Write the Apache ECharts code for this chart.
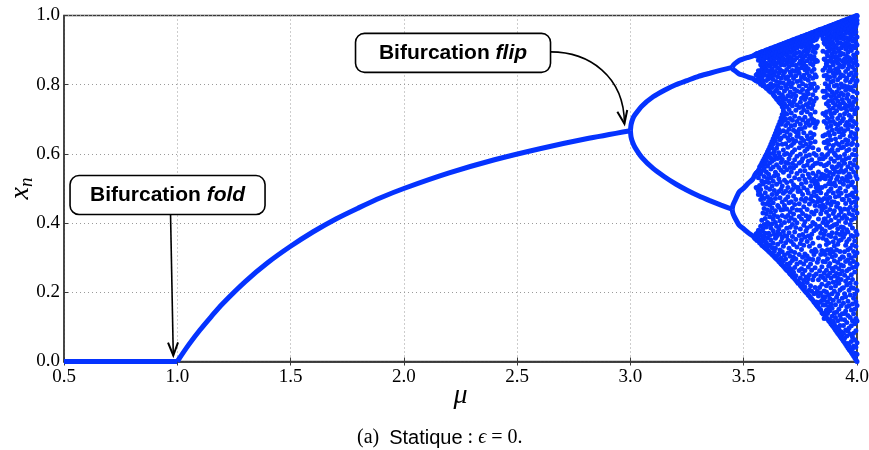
<!DOCTYPE html>
<html><head><meta charset="utf-8">
<script src="https://cdn.jsdelivr.net/npm/echarts@6/dist/echarts.min.js"></script>
<style>html,body{margin:0;padding:0;background:#fff}#c{width:869px;height:450px}</style>
</head><body><div id="c"></div>
<script>
// ---- tick labels ----
const xTickLabels = ['0.5','1.0','1.5','2.0','2.5','3.0','3.5','4.0'];
const yTickLabels = ['0.0','0.2','0.4','0.6','0.8','1.0'];

// ---- stable branches ----
const zeroMu = [0.5, 0.75, 1.0];
const zeroX  = [0.0, 0.0, 0.0];
const fixedMu = [1.0, 1.05, 1.1, 1.15, 1.2, 1.3, 1.4, 1.5, 1.6, 1.7, 1.8, 1.9, 2.0, 2.2, 2.4, 2.6, 2.8, 3.0];
const fixedX  = [0.0, 0.048, 0.091, 0.130, 0.167, 0.231, 0.286, 0.333, 0.375, 0.412, 0.444, 0.474, 0.500, 0.545, 0.583, 0.615, 0.643, 0.667];
const p2Mu    = [3.0, 3.003, 3.01, 3.02, 3.05, 3.1, 3.15, 3.2, 3.25, 3.3, 3.35, 3.4, 3.449];
const p2Upper = [0.667, 0.685, 0.701, 0.713, 0.738, 0.765, 0.784, 0.800, 0.812, 0.824, 0.833, 0.842, 0.850];
const p2Lower = [0.667, 0.648, 0.633, 0.619, 0.590, 0.558, 0.534, 0.513, 0.495, 0.479, 0.465, 0.452, 0.440];
const p4Mu = [3.449, 3.452, 3.46, 3.48, 3.50, 3.52, 3.54, 3.55, 3.56];
const p4UU = [0.850, 0.854, 0.860, 0.870, 0.875, 0.879, 0.883, 0.887, 0.890];
const p4UL = [0.850, 0.845, 0.841, 0.831, 0.827, 0.822, 0.818, 0.813, 0.810];
const p4LL = [0.440, 0.429, 0.417, 0.394, 0.383, 0.372, 0.363, 0.355, 0.350];
const p4LU = [0.440, 0.451, 0.463, 0.490, 0.501, 0.515, 0.527, 0.540, 0.548];

// ---- scattered (chaotic) region: one column of x_n values per mu ----
const chaosMu = [3.555,3.56,3.565,3.57,3.575,3.58,3.585,3.59,3.595,3.60,3.605,3.61,3.615,3.62,3.625,3.63,3.635,3.64,3.645,3.65,
  3.655,3.66,3.665,3.67,3.675,3.68,3.685,3.69,3.695,3.70,3.705,3.71,3.715,3.72,3.725,3.73,3.735,3.74,3.745,3.75,
  3.755,3.76,3.765,3.77,3.775,3.78,3.785,3.79,3.795,3.80,3.805,3.81,3.815,3.82,3.825,3.83,3.835,3.84,3.845,3.85,
  3.855,3.86,3.865,3.87,3.875,3.88,3.885,3.89,3.895,3.90,3.905,3.91,3.915,3.92,3.925,3.93,3.935,3.94,3.945,3.95,
  3.955,3.96,3.965,3.97,3.975,3.98,3.985,3.99,3.995,4.00];
const chaosX = [
 [0.888,0.884,0.812,0.828,0.357,0.369,0.544,0.503],
 [0.890,0.882,0.810,0.831,0.350,0.371,0.548,0.500],
 [0.891,0.887,0.871,0.840,0.823,0.809,0.553,0.531,0.492,0.483,0.379,0.361,0.348],
 [0.892,0.883,0.876,0.836,0.815,0.806,0.562,0.541,0.509,0.487,0.374,0.352,0.343],
 [0.894,0.889,0.869,0.858,0.829,0.801,0.567,0.544,0.497,0.468,0.391,0.366,0.341],
 [0.895,0.891,0.879,0.846,0.818,0.803,0.574,0.551,0.522,0.479,0.408,0.377,0.349,0.336],
 [0.896,0.885,0.867,0.833,0.811,0.797,0.580,0.569,0.513,0.457,0.429,0.384,0.356,0.334],
 [0.897,0.893,0.874,0.856,0.827,0.799,0.586,0.558,0.535,0.471,0.442,0.396,0.361,0.331],
 [0.899,0.890,0.881,0.849,0.838,0.793,0.593,0.572,0.519,0.488,0.413,0.371,0.347,0.328],
 [0.900,0.896,0.862,0.844,0.812,0.790,0.599,0.581,0.548,0.503,0.455,0.427,0.389,0.343,0.325],
 [0.901,0.893,0.878,0.857,0.826,0.788,0.606,0.565,0.529,0.476,0.438,0.402,0.358,0.332,0.322],
 [0.902,0.898,0.887,0.839,0.817,0.796,0.784,0.613,0.592,0.541,0.517,0.463,0.397,0.371,0.319],
 [0.904,0.895,0.871,0.853,0.830,0.781,0.620,0.601,0.574,0.498,0.452,0.418,0.365,0.337,0.316],
 [0.905,0.901,0.882,0.864,0.821,0.803,0.778,0.628,0.588,0.556,0.531,0.469,0.431,0.386,0.351,0.313],
 [0.906,0.898,0.875,0.846,0.835,0.792,0.636,0.617,0.579,0.507,0.483,0.444,0.398,0.329,0.309],
 [0.907,0.903,0.889,0.859,0.815,0.772,0.644,0.629,0.601,0.562,0.521,0.459,0.412,0.378,0.342,0.306],
 [0.909,0.900,0.878,0.867,0.827,0.798,0.767,0.652,0.607,0.584,0.536,0.494,0.423,0.367,0.318,0.303],
 [0.910,0.906,0.886,0.853,0.838,0.781,0.764,0.660,0.638,0.594,0.547,0.471,0.436,0.402,0.356,0.327,0.299],
 [0.911,0.902,0.894,0.861,0.809,0.786,0.759,0.668,0.649,0.616,0.569,0.512,0.484,0.391,0.362,0.305,0.296],
 [0.912,0.908,0.877,0.849,0.823,0.797,0.756,0.677,0.655,0.627,0.587,0.539,0.451,0.418,0.374,0.339,0.293],
 [0.914,0.905,0.889,0.866,0.833,0.777,0.751,0.685,0.671,0.603,0.561,0.528,0.491,0.446,0.383,0.311,0.289],
 [0.915,0.911,0.896,0.872,0.844,0.806,0.763,0.747,0.694,0.662,0.641,0.592,0.519,0.473,0.407,0.368,0.322,0.286],
 [0.916,0.907,0.883,0.858,0.819,0.791,0.744,0.704,0.686,0.646,0.575,0.553,0.498,0.438,0.394,0.347,0.299,0.282],
 [0.917,0.913,0.899,0.867,0.839,0.771,0.752,0.736,0.714,0.693,0.628,0.584,0.507,0.461,0.422,0.358,0.317,0.279],
 [0.919,0.910,0.888,0.876,0.827,0.805,0.764,0.731,0.724,0.709,0.667,0.611,0.547,0.486,0.439,0.376,0.333,0.291,0.275],
 [0.920,0.916,0.893,0.857,0.836,0.782,0.745,0.719,0.697,0.652,0.598,0.563,0.524,0.451,0.402,0.364,0.308,0.272],
 [0.921,0.912,0.903,0.871,0.818,0.796,0.758,0.701,0.682,0.629,0.575,0.492,0.468,0.417,0.343,0.296,0.267],
 [0.922,0.918,0.885,0.862,0.844,0.789,0.737,0.715,0.663,0.601,0.554,0.517,0.441,0.385,0.362,0.281,0.264],
 [0.924,0.914,0.897,0.874,0.823,0.801,0.768,0.689,0.646,0.619,0.573,0.503,0.476,0.422,0.351,0.313,0.262],
 [0.925,0.921,0.907,0.881,0.852,0.811,0.753,0.728,0.671,0.639,0.586,0.536,0.459,0.407,0.372,0.327,0.273,0.257],
 [0.926,0.917,0.893,0.864,0.836,0.779,0.744,0.702,0.655,0.597,0.561,0.489,0.433,0.388,0.304,0.285,0.253],
 [0.927,0.923,0.909,0.876,0.827,0.794,0.766,0.718,0.681,0.624,0.548,0.521,0.462,0.415,0.347,0.319,0.266,0.250],
 [0.929,0.920,0.898,0.857,0.841,0.804,0.739,0.697,0.642,0.605,0.572,0.497,0.443,0.396,0.361,0.292,0.246],
 [0.930,0.926,0.912,0.885,0.869,0.818,0.773,0.751,0.668,0.631,0.559,0.511,0.478,0.426,0.338,0.301,0.258,0.243],
 [0.931,0.922,0.903,0.872,0.839,0.787,0.757,0.709,0.683,0.612,0.583,0.531,0.454,0.409,0.374,0.315,0.272,0.239],
 [0.932,0.928,0.915,0.891,0.856,0.826,0.768,0.726,0.664,0.637,0.566,0.504,0.468,0.387,0.353,0.296,0.248,0.235],
 [0.934,0.925,0.906,0.878,0.847,0.809,0.782,0.741,0.694,0.651,0.593,0.543,0.438,0.401,0.331,0.282,0.231],
 [0.935,0.932,0.929,0.846,0.842,0.838,0.662,0.657,0.651,0.503,0.497,0.491,0.232,0.228,0.226],
 [0.936,0.931,0.914,0.894,0.861,0.833,0.796,0.734,0.703,0.671,0.618,0.574,0.527,0.456,0.419,0.364,0.309,0.263,0.226],
 [0.937,0.933,0.921,0.883,0.868,0.812,0.779,0.749,0.686,0.632,0.599,0.551,0.492,0.437,0.383,0.341,0.287,0.241,0.220],
 [0.939,0.930,0.908,0.889,0.849,0.822,0.761,0.719,0.673,0.645,0.578,0.513,0.469,0.412,0.352,0.324,0.268,0.216],
 [0.940,0.936,0.918,0.875,0.857,0.803,0.786,0.737,0.698,0.623,0.586,0.537,0.483,0.428,0.367,0.301,0.253,0.224,0.212],
 [0.941,0.933,0.925,0.896,0.864,0.827,0.771,0.727,0.661,0.639,0.564,0.502,0.447,0.394,0.336,0.282,0.234,0.208],
 [0.942,0.939,0.911,0.882,0.843,0.818,0.757,0.706,0.677,0.608,0.551,0.526,0.463,0.404,0.359,0.311,0.263,0.215,0.204],
 [0.944,0.935,0.919,0.901,0.853,0.797,0.764,0.743,0.689,0.628,0.593,0.518,0.471,0.421,0.377,0.292,0.244,0.200],
 [0.945,0.942,0.927,0.889,0.869,0.834,0.781,0.722,0.652,0.614,0.568,0.496,0.439,0.386,0.347,0.305,0.228,0.197],
 [0.946,0.938,0.915,0.898,0.846,0.813,0.774,0.735,0.696,0.643,0.579,0.541,0.487,0.412,0.363,0.273,0.239,0.192],
 [0.947,0.944,0.931,0.906,0.877,0.825,0.789,0.748,0.683,0.621,0.597,0.532,0.455,0.418,0.333,0.297,0.251,0.207,0.189],
 [0.949,0.940,0.922,0.884,0.861,0.801,0.758,0.714,0.661,0.632,0.559,0.507,0.469,0.391,0.356,0.282,0.219,0.184],
 [0.950,0.947,0.934,0.912,0.873,0.838,0.792,0.731,0.702,0.647,0.583,0.521,0.478,0.431,0.368,0.319,0.264,0.203,0.181],
 [0.951,0.943,0.926,0.897,0.858,0.819,0.771,0.742,0.689,0.618,0.566,0.544,0.463,0.402,0.342,0.295,0.236,0.177],
 [0.952,0.949,0.937,0.908,0.881,0.845,0.803,0.752,0.697,0.656,0.601,0.527,0.489,0.426,0.378,0.309,0.247,0.196,0.172],
 [0.954,0.945,0.929,0.893,0.866,0.829,0.783,0.721,0.676,0.635,0.572,0.514,0.451,0.397,0.324,0.271,0.214,0.168],
 [0.955,0.953,0.951,0.948,0.943,0.931,0.906,0.871,0.823,0.761,0.687,0.596,0.537,0.521,0.512,0.503,0.478,0.436,0.382,0.318,0.253,0.198,0.172,0.166,0.164],
 [0.956,0.955,0.953,0.950,0.946,0.938,0.912,0.868,0.792,0.693,0.574,0.514,0.507,0.501,0.493,0.462,0.389,0.287,0.203,0.167,0.162,0.160],
 [0.957,0.958,0.952,0.612,0.548,0.505,0.471,0.412,0.358,0.297,0.236,0.189,0.156],
 [0.958,0.959,0.946,0.586,0.527,0.497,0.449,0.391,0.334,0.262,0.214,0.171,0.152],
 [0.959,0.960,0.571,0.532,0.488,0.463,0.427,0.371,0.309,0.247,0.198,0.149],
 [0.961,0.955,0.942,0.598,0.541,0.503,0.467,0.438,0.383,0.321,0.274,0.223,0.176,0.141],
 [0.962,0.958,0.951,0.933,0.897,0.842,0.781,0.717,0.652,0.586,0.531,0.452,0.443,0.402,0.356,0.289,0.243,0.187,0.163,0.137],
 [0.963,0.960,0.948,0.921,0.874,0.826,0.764,0.694,0.633,0.566,0.538,0.471,0.412,0.367,0.318,0.256,0.204,0.178,0.139,0.124],
 [0.965,0.962,0.958,0.931,0.917,0.872,0.849,0.803,0.781,0.764,0.712,0.655,0.634,0.591,0.528,0.507,0.446,0.412,0.377,0.309,0.288,0.236,0.187,0.163,0.131],
 [0.966,0.963,0.944,0.926,0.893,0.861,0.857,0.827,0.745,0.721,0.688,0.617,0.569,0.552,0.483,0.431,0.394,0.351,0.338,0.264,0.219,0.201,0.148,0.127],
 [0.967,0.965,0.951,0.939,0.908,0.884,0.816,0.792,0.771,0.703,0.676,0.639,0.598,0.537,0.469,0.458,0.402,0.323,0.297,0.248,0.172,0.139,0.123],
 [0.969,0.966,0.955,0.923,0.897,0.868,0.839,0.797,0.752,0.739,0.662,0.628,0.574,0.514,0.492,0.421,0.365,0.343,0.276,0.226,0.193,0.158,0.118],
 [0.970,0.967,0.946,0.934,0.914,0.851,0.822,0.786,0.727,0.694,0.653,0.608,0.546,0.523,0.474,0.439,0.387,0.312,0.283,0.255,0.182,0.147,0.121,0.114],
 [0.971,0.969,0.959,0.903,0.877,0.842,0.808,0.766,0.716,0.681,0.641,0.586,0.531,0.499,0.453,0.408,0.361,0.324,0.241,0.213,0.166,0.109],
 [0.972,0.970,0.962,0.941,0.925,0.889,0.866,0.779,0.754,0.706,0.669,0.613,0.563,0.512,0.462,0.391,0.372,0.303,0.269,0.196,0.154,0.131,0.105],
 [0.974,0.971,0.948,0.918,0.901,0.857,0.834,0.811,0.748,0.733,0.694,0.624,0.557,0.541,0.487,0.428,0.346,0.317,0.262,0.229,0.177,0.116,0.101],
 [0.975,0.972,0.961,0.936,0.912,0.879,0.824,0.796,0.771,0.718,0.658,0.602,0.579,0.516,0.461,0.436,0.395,0.334,0.291,0.247,0.203,0.141,0.108,0.096],
 [0.976,0.974,0.953,0.944,0.893,0.868,0.845,0.761,0.741,0.687,0.643,0.596,0.549,0.508,0.476,0.416,0.358,0.306,0.273,0.218,0.164,0.127,0.091],
 [0.977,0.975,0.966,0.929,0.907,0.881,0.833,0.799,0.779,0.725,0.672,0.631,0.562,0.527,0.448,0.397,0.371,0.322,0.254,0.231,0.186,0.142,0.099,0.087],
 [0.979,0.976,0.957,0.941,0.919,0.862,0.847,0.814,0.753,0.702,0.683,0.611,0.588,0.534,0.491,0.457,0.384,0.339,0.286,0.241,0.195,0.118,0.082],
 [0.980,0.977,0.969,0.952,0.897,0.873,0.838,0.789,0.767,0.736,0.664,0.627,0.571,0.547,0.478,0.423,0.406,0.349,0.268,0.226,0.174,0.151,0.093,0.078],
 [0.981,0.979,0.963,0.934,0.921,0.885,0.856,0.821,0.744,0.712,0.689,0.649,0.592,0.519,0.501,0.442,0.367,0.318,0.296,0.253,0.207,0.133,0.104,0.073],
 [0.982,0.980,0.971,0.947,0.906,0.891,0.829,0.802,0.776,0.731,0.673,0.618,0.566,0.553,0.486,0.433,0.389,0.352,0.279,0.237,0.161,0.122,0.086,0.069],
 [0.984,0.981,0.958,0.939,0.917,0.869,0.851,0.793,0.757,0.696,0.659,0.634,0.581,0.529,0.468,0.414,0.376,0.303,0.261,0.212,0.183,0.138,0.079,0.064],
 [0.985,0.983,0.969,0.944,0.931,0.889,0.853,0.826,0.771,0.748,0.702,0.655,0.619,0.547,0.512,0.468,0.387,0.359,0.301,0.276,0.213,0.168,0.104,0.082,0.059],
 [0.986,0.984,0.976,0.958,0.912,0.874,0.861,0.797,0.733,0.716,0.667,0.598,0.573,0.524,0.441,0.422,0.368,0.317,0.249,0.196,0.139,0.121,0.067,0.055],
 [0.987,0.985,0.962,0.949,0.921,0.903,0.838,0.812,0.784,0.741,0.683,0.641,0.586,0.552,0.493,0.457,0.402,0.336,0.289,0.232,0.187,0.146,0.091,0.050],
 [0.989,0.987,0.979,0.936,0.908,0.882,0.867,0.819,0.761,0.724,0.691,0.627,0.609,0.534,0.478,0.413,0.381,0.346,0.262,0.221,0.158,0.113,0.074,0.045],
 [0.990,0.988,0.971,0.953,0.927,0.894,0.846,0.794,0.772,0.737,0.672,0.638,0.563,0.521,0.506,0.439,0.374,0.323,0.294,0.241,0.174,0.133,0.088,0.052,0.040],
 [0.991,0.989,0.982,0.961,0.916,0.878,0.857,0.829,0.753,0.712,0.684,0.613,0.589,0.542,0.467,0.428,0.353,0.308,0.267,0.206,0.161,0.097,0.046,0.035],
 [0.992,0.990,0.976,0.947,0.934,0.906,0.869,0.808,0.786,0.743,0.697,0.651,0.574,0.533,0.481,0.446,0.396,0.327,0.283,0.226,0.192,0.127,0.079,0.031],
 [0.994,0.992,0.985,0.967,0.941,0.899,0.873,0.834,0.792,0.728,0.706,0.662,0.627,0.557,0.511,0.459,0.408,0.364,0.299,0.251,0.214,0.149,0.103,0.058,0.026],
 [0.995,0.993,0.979,0.955,0.926,0.912,0.851,0.815,0.764,0.739,0.679,0.631,0.598,0.519,0.487,0.423,0.386,0.337,0.272,0.237,0.166,0.118,0.071,0.037,0.021],
 [0.996,0.994,0.988,0.972,0.946,0.886,0.862,0.823,0.781,0.749,0.694,0.643,0.569,0.548,0.476,0.437,0.361,0.318,0.289,0.212,0.183,0.138,0.082,0.044,0.016],
 [0.997,0.995,0.983,0.961,0.933,0.907,0.877,0.843,0.796,0.727,0.716,0.658,0.612,0.582,0.503,0.462,0.414,0.348,0.305,0.259,0.194,0.151,0.109,0.063,0.024,0.011],
 [0.999,0.997,0.991,0.968,0.952,0.921,0.869,0.831,0.806,0.757,0.688,0.647,0.596,0.537,0.491,0.449,0.376,0.333,0.274,0.226,0.173,0.124,0.089,0.041,0.005],
 [1.000,0.998,0.986,0.977,0.938,0.915,0.892,0.857,0.812,0.776,0.733,0.671,0.626,0.561,0.528,0.471,0.429,0.367,0.314,0.281,0.205,0.162,0.117,0.054,0.021,0.000]
];

// annotation anchors (data coordinates)
const foldTextAt = [0.957, 0.481];
const flipTextAt = [2.217, 0.892];
const foldTipAt = [1.0, 0.0];
const flipTipAt = [3.0, 0.667];

const BLUE = '#0533ff';
const zip = (a, b) => a.map((v, i) => [v, b[i]]);
const chaosData = [];
chaosMu.forEach((m, i) => chaosX[i].forEach(v => chaosData.push([m, v])));

function lineSeries(mu, xs, smooth) {
  return {type: 'line', data: zip(mu, xs), showSymbol: false, symbol: 'none', smooth: smooth,
    clip: false, lineStyle: {color: BLUE, width: 5}, z: 3, silent: true, animation: false};
}

const serif = 'Liberation Serif';
const chart = echarts.init(document.getElementById('c'), null, {renderer: 'canvas'});
const axisLineStyle = {color: '#3a3a3a', width: 1.5};
const option = {
  animation: false,
  backgroundColor: '#fff',
  title: {
    left: 352, top: 423,
    text: '{a|(a)}  {s|Statique} {a|: }{e|ϵ}{a| = 0.}',
    textStyle: {fontWeight: 'normal', rich: {
      a: {fontFamily: serif, fontSize: 20, color: '#000', fontWeight: 'normal'},
      s: {fontFamily: 'Liberation Sans', fontSize: 20, color: '#000', fontWeight: 'normal'},
      e: {fontFamily: serif, fontStyle: 'italic', fontSize: 20, color: '#000', fontWeight: 'normal'}
    }}
  },
  grid: {left: 64, right: 12, top: 15.5, bottom: 88.5, containLabel: false, outerBoundsMode: 'none',
    show: true, borderColor: '#3a3a3a', borderWidth: 1.5, backgroundColor: 'transparent'},
  xAxis: [{
    type: 'value', min: 0.5, max: 4.0, interval: 0.5,
    name: '{m|μ}', nameLocation: 'middle', nameGap: 20, nameMoveOverlap: false,
    nameTextStyle: {rich: {m: {fontFamily: serif, fontStyle: 'italic', fontSize: 28, color: '#000'}}},
    axisLine: {show: true, lineStyle: axisLineStyle},
    axisTick: {show: true, inside: true, length: 4, lineStyle: {color: '#3a3a3a'}},
    axisLabel: {fontFamily: serif, fontSize: 19, color: '#000', margin: 6,
      formatter: v => xTickLabels[Math.round((v - 0.5) / 0.5)]},
    splitLine: {show: true, lineStyle: {color: '#9a9a9a', type: [1, 3], width: 1}}
  }, {
    type: 'value', position: 'top', min: 0.5, max: 4.0, interval: 0.5,
    axisLine: {show: true, lineStyle: axisLineStyle},
    axisTick: {show: true, inside: true, length: 4, lineStyle: {color: '#3a3a3a'}},
    axisLabel: {show: false}, splitLine: {show: false}
  }],
  yAxis: [{
    type: 'value', min: 0, max: 1, interval: 0.2,
    name: '{x|x}{n|n}', nameLocation: 'middle', nameGap: 28, nameRotate: 90, nameMoveOverlap: false,
    nameTextStyle: {rich: {
      x: {fontFamily: serif, fontStyle: 'italic', fontSize: 28, color: '#000', lineHeight: 30},
      n: {fontFamily: serif, fontStyle: 'italic', fontSize: 19, color: '#000', verticalAlign: 'bottom', lineHeight: 14, padding: [10, 0, 0, 0]}
    }},
    axisLine: {show: true, lineStyle: axisLineStyle},
    axisTick: {show: true, inside: true, length: 4, lineStyle: {color: '#3a3a3a'}},
    axisLabel: {fontFamily: serif, fontSize: 19, color: '#000', margin: 4,
      formatter: v => yTickLabels[Math.round(v / 0.2)]},
    splitLine: {show: true, lineStyle: {color: '#9a9a9a', type: [1, 3], width: 1}}
  }, {
    type: 'value', position: 'right', min: 0, max: 1, interval: 0.2,
    axisLine: {show: true, lineStyle: axisLineStyle},
    axisTick: {show: true, inside: true, length: 4, lineStyle: {color: '#3a3a3a'}},
    axisLabel: {show: false}, splitLine: {show: false}
  }],
  series: [
    lineSeries(zeroMu, zeroX, false),
    lineSeries(fixedMu, fixedX, 0.3),
    lineSeries(p2Mu, p2Upper, 0.2),
    lineSeries(p2Mu, p2Lower, 0.2),
    lineSeries(p4Mu, p4UU, 0.2),
    lineSeries(p4Mu, p4UL, 0.2),
    lineSeries(p4Mu, p4LL, 0.2),
    lineSeries(p4Mu, p4LU, 0.2),
    {type: 'scatter', data: chaosData, symbol: 'circle', symbolSize: 5, clip: false,
     itemStyle: {color: BLUE, opacity: 1}, z: 3, silent: true, animation: false, large: false}
  ]
};
chart.setOption(option);

// ---- annotations ----
const px = p => chart.convertToPixel({xAxisIndex: 0, yAxisIndex: 0}, p);
const fold = px(foldTextAt), flip = px(flipTextAt);
const foldTip = px(foldTipAt); foldTip[0] -= 4; foldTip[1] -= 6;
const flipTip = px(flipTipAt); flipTip[0] -= 6; flipTip[1] -= 7;
const BW = 195, BH = 39;
const labelRich = {
  b: {fontFamily: 'Liberation Sans', fontWeight: 'bold', fontSize: 21, fill: '#000'},
  bi: {fontFamily: 'Liberation Sans', fontWeight: 'bold', fontStyle: 'italic', fontSize: 21, fill: '#000'}
};
function box(c, word) {
  return [
    {type: 'rect', z: 100, shape: {x: c[0] - BW / 2, y: c[1] - BH / 2, width: BW, height: BH, r: 9},
     style: {fill: '#fff', stroke: '#000', lineWidth: 1.6}},
    {type: 'text', z: 101, x: c[0], y: c[1],
     style: {text: '{b|Bifurcation }{bi|' + word + '}', rich: labelRich, align: 'center', verticalAlign: 'middle'}}
  ];
}
function head(t, dx, dy) {
  const L = Math.hypot(dx, dy), ux = dx / L, uy = dy / L, len = 13, w = 5;
  return {type: 'polyline', z: 100, shape: {points: [
    [t[0] - ux * len - uy * w, t[1] - uy * len + ux * w], [t[0], t[1]], [t[0] - ux * len + uy * w, t[1] - uy * len - ux * w]]},
    style: {stroke: '#000', lineWidth: 2, fill: null}};
}
const fStart = [fold[0] + 3, fold[1] + BH / 2];
const pStart = [flip[0] + BW / 2, flip[1] - 1];
const cp1 = [pStart[0] + 38, pStart[1]];
const cp2 = [flipTip[0], flipTip[1] - 48];
chart.setOption({graphic: [
  {type: 'line', z: 99, shape: {x1: fStart[0], y1: fStart[1], x2: foldTip[0], y2: foldTip[1]}, style: {stroke: '#000', lineWidth: 1.6}},
  head(foldTip, foldTip[0] - fStart[0], foldTip[1] - fStart[1]),
  {type: 'bezierCurve', z: 99, shape: {x1: pStart[0], y1: pStart[1], cpx1: cp1[0], cpy1: cp1[1], cpx2: cp2[0], cpy2: cp2[1], x2: flipTip[0], y2: flipTip[1]},
   style: {stroke: '#000', lineWidth: 1.6, fill: null}},
  head(flipTip, 0.5, 3),
  ...box(fold, 'fold'),
  ...box(flip, 'flip')
]});
</script></body></html>
